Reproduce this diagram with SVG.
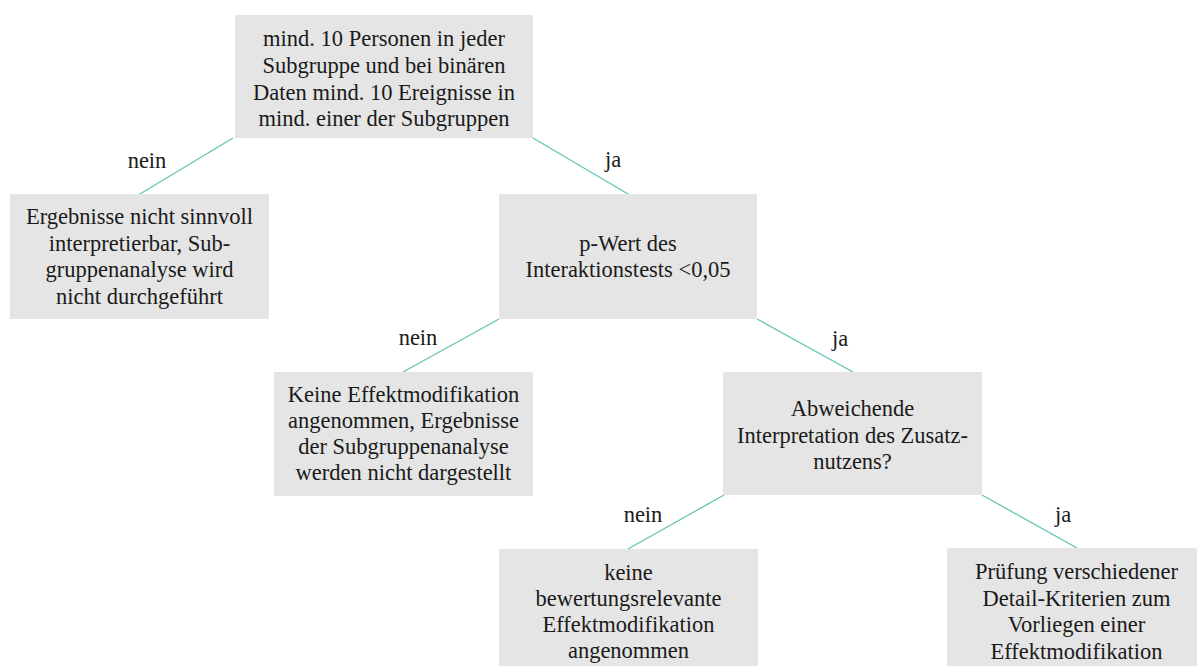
<svg xmlns="http://www.w3.org/2000/svg" width="1197" height="666" viewBox="0 0 1197 666">
<style>
.box{fill:#e5e5e5;}
.txt{font-family:'Liberation Serif','Times New Roman',serif;font-size:22.5px;fill:#1a1a1a;text-anchor:middle;}
.edge{stroke:#62c6b4;stroke-width:1.3;fill:none;}
</style>
<rect width="1197" height="666" fill="#ffffff"/>
<g id="connectors">
<line class="edge" x1="233" y1="138" x2="140" y2="194"/>
<line class="edge" x1="533" y1="138" x2="628" y2="194"/>
<line class="edge" x1="499" y1="319" x2="403" y2="372"/>
<line class="edge" x1="757" y1="319" x2="853" y2="372"/>
<line class="edge" x1="724" y1="495" x2="628" y2="549"/>
<line class="edge" x1="982" y1="495" x2="1077" y2="548"/>
<text class="txt" x="147" y="168">nein</text>
<text class="txt" x="613" y="167">ja</text>
<text class="txt" x="418" y="345">nein</text>
<text class="txt" x="840" y="346">ja</text>
<text class="txt" x="643" y="522">nein</text>
<text class="txt" x="1063" y="522">ja</text>
</g>
<g id="n1">
<rect class="box" x="235" y="15" width="298" height="123"/>
<text class="txt" x="384" y="46">mind. 10 Personen in jeder</text>
<text class="txt" x="384" y="73">Subgruppe und bei binären</text>
<text class="txt" x="384" y="100">Daten mind. 10 Ereignisse in</text>
<text class="txt" x="384" y="126">mind. einer der Subgruppen</text>
</g>
<g id="n2">
<rect class="box" x="10" y="194" width="259" height="125"/>
<text class="txt" x="139.5" y="224">Ergebnisse nicht sinnvoll</text>
<text class="txt" x="139.5" y="250.5">interpretierbar, Sub-</text>
<text class="txt" x="139.5" y="277">gruppenanalyse wird</text>
<text class="txt" x="139.5" y="303.5">nicht durchgeführt</text>
</g>
<g id="n3">
<rect class="box" x="499" y="194" width="258" height="125"/>
<text class="txt" x="628" y="251">p-Wert des</text>
<text class="txt" x="628" y="277">Interaktionstests &lt;0,05</text>
</g>
<g id="n4">
<rect class="box" x="274" y="372" width="259" height="124"/>
<text class="txt" x="403.5" y="402">Keine Effektmodifikation</text>
<text class="txt" x="403.5" y="428">angenommen, Ergebnisse</text>
<text class="txt" x="403.5" y="454">der Subgruppenanalyse</text>
<text class="txt" x="403.5" y="480">werden nicht dargestellt</text>
</g>
<g id="n5">
<rect class="box" x="723" y="372" width="259" height="123"/>
<text class="txt" x="852.5" y="416">Abweichende</text>
<text class="txt" x="852.5" y="443">Interpretation des Zusatz-</text>
<text class="txt" x="852.5" y="469">nutzens?</text>
</g>
<g id="n6">
<rect class="box" x="499" y="549" width="259" height="130"/>
<text class="txt" x="628.5" y="580">keine</text>
<text class="txt" x="628.5" y="606">bewertungsrelevante</text>
<text class="txt" x="628.5" y="632">Effektmodifikation</text>
<text class="txt" x="628.5" y="658">angenommen</text>
</g>
<g id="n7">
<rect class="box" x="947" y="548" width="260" height="130"/>
<text class="txt" x="1076.5" y="579">Prüfung verschiedener</text>
<text class="txt" x="1076.5" y="606">Detail-Kriterien zum</text>
<text class="txt" x="1076.5" y="632">Vorliegen einer</text>
<text class="txt" x="1076.5" y="659">Effektmodifikation</text>
</g>
</svg>
